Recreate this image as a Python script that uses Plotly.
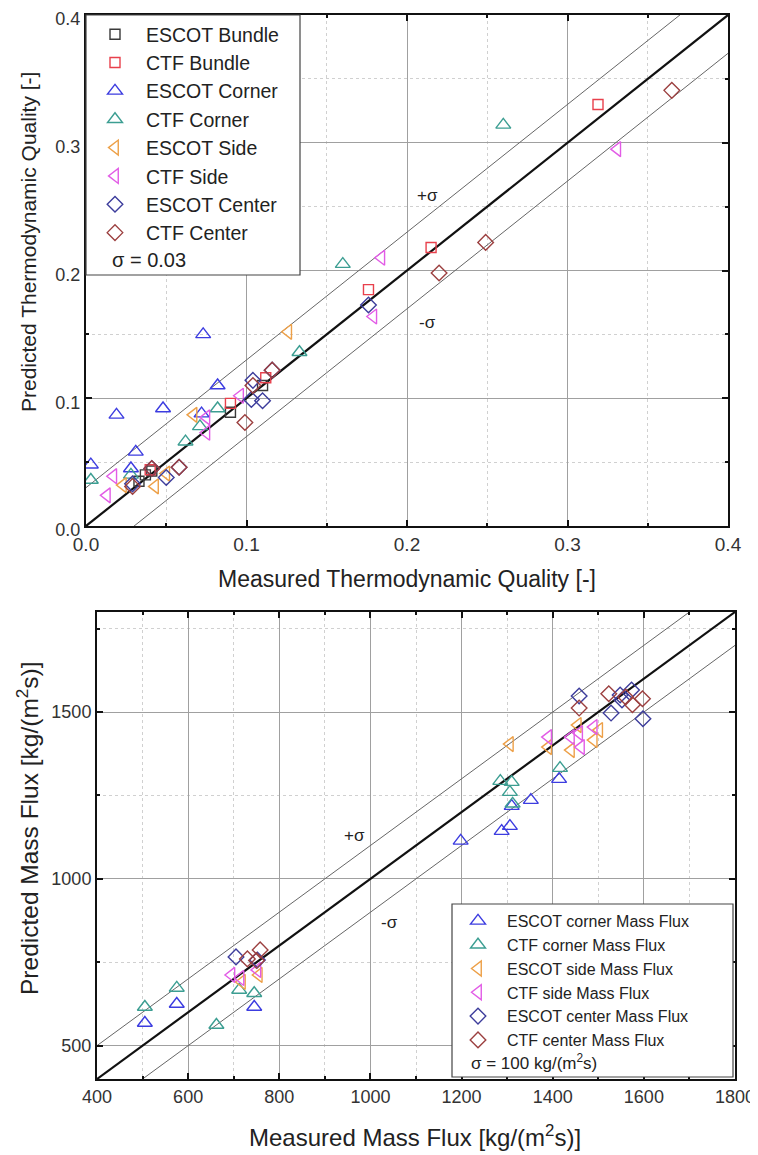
import plotly.graph_objects as go
from plotly.subplots import make_subplots

W, H = 758, 1155
OFF = 8  # page body margin of the html page

# ---------------- Top chart: thermodynamic quality ----------------
q_series = ["ESCOT Bundle", "CTF Bundle", "ESCOT Corner", "CTF Corner",
            "ESCOT Side", "CTF Side", "ESCOT Center", "CTF Center"]

escot_bundle_x = [0.033, 0.037, 0.041, 0.090, 0.110]
escot_bundle_y = [0.035, 0.040, 0.043, 0.089, 0.110]
ctf_bundle_x = [0.040, 0.090, 0.112, 0.176, 0.215, 0.319]
ctf_bundle_y = [0.044, 0.096, 0.116, 0.185, 0.218, 0.330]
escot_corner_x = [0.003, 0.019, 0.031, 0.028, 0.048, 0.073, 0.082, 0.072]
escot_corner_y = [0.048, 0.087, 0.058, 0.045, 0.092, 0.150, 0.110, 0.088]
ctf_corner_x = [0.003, 0.028, 0.062, 0.071, 0.082, 0.133, 0.160, 0.260]
ctf_corner_y = [0.036, 0.040, 0.066, 0.078, 0.092, 0.136, 0.205, 0.314]
escot_side_x = [0.023, 0.043, 0.050, 0.067, 0.126]
escot_side_y = [0.032, 0.031, 0.041, 0.087, 0.152]
ctf_side_x = [0.013, 0.017, 0.075, 0.075, 0.096, 0.179, 0.184, 0.331]
ctf_side_y = [0.024, 0.039, 0.085, 0.073, 0.102, 0.164, 0.210, 0.295]
escot_center_x = [0.029, 0.041, 0.050, 0.058, 0.103, 0.104, 0.110, 0.116, 0.176]
escot_center_y = [0.033, 0.045, 0.038, 0.046, 0.099, 0.114, 0.098, 0.122, 0.173]
ctf_center_x = [0.029, 0.041, 0.058, 0.099, 0.104, 0.116, 0.220, 0.249, 0.365]
ctf_center_y = [0.031, 0.045, 0.046, 0.081, 0.110, 0.122, 0.198, 0.222, 0.341]

q_sigma = 0.03
q_line = [0.0, 0.4]

# ---------------- Bottom chart: mass flux ----------------
m_series = ["ESCOT corner Mass Flux", "CTF corner Mass Flux", "ESCOT side Mass Flux",
            "CTF side Mass Flux", "ESCOT center Mass Flux", "CTF center Mass Flux"]

m_escot_corner_x = [505, 575, 745, 1198, 1288, 1306, 1310, 1352, 1414]
m_escot_corner_y = [568, 625, 616, 1114, 1143, 1158, 1218, 1236, 1299]
m_ctf_corner_x = [505, 575, 662, 712, 745, 1285, 1306, 1310, 1312, 1416]
m_ctf_corner_y = [616, 673, 562, 667, 657, 1293, 1260, 1290, 1225, 1332]
m_escot_side_x = [718, 755, 1306, 1390, 1440, 1455, 1490, 1502]
m_escot_side_y = [691, 712, 1404, 1395, 1386, 1461, 1416, 1446]
m_ctf_side_x = [695, 715, 752, 1390, 1440, 1458, 1462, 1490]
m_ctf_side_y = [712, 703, 727, 1425, 1425, 1437, 1395, 1455]
m_escot_center_x = [705, 752, 1458, 1528, 1548, 1552, 1573, 1598]
m_escot_center_y = [766, 757, 1548, 1497, 1551, 1536, 1566, 1480]
m_ctf_center_x = [730, 750, 758, 1458, 1523, 1560, 1575, 1597]
m_ctf_center_y = [760, 755, 787, 1512, 1555, 1545, 1522, 1540]

m_sigma = 100
m_line = [400, 1800]

# ---------------- styles ----------------
C_EB, C_CB = "#3a3a3a", "#e8404c"
C_EC, C_CC = "#3c3ce0", "#3c9e92"
C_ES, C_CS = "#eda048", "#e25ce6"
C_EN, C_CN = "#3d3d9c", "#9c4040"
FONT = "Liberation Sans, Arial, sans-serif"

fig = make_subplots(rows=2, cols=1)


def add_line(xs, ys, row, width, color):
    fig.add_trace(go.Scatter(x=xs, y=ys, mode="lines", showlegend=False,
                             hoverinfo="skip", line=dict(color=color, width=width)),
                  row=row, col=1)


# reference lines (top)
add_line(q_line, q_line, 1, 2.2, "#111111")
add_line(q_line, [v + q_sigma for v in q_line], 1, 1, "#666666")
add_line(q_line, [v - q_sigma for v in q_line], 1, 1, "#666666")
# reference lines (bottom)
add_line(m_line, m_line, 2, 2.2, "#111111")
add_line(m_line, [v + m_sigma for v in m_line], 2, 1, "#666666")
add_line(m_line, [v - m_sigma for v in m_line], 2, 1, "#666666")

top_sets = [
    (escot_bundle_x, escot_bundle_y, "square-open", C_EB, 10),
    (ctf_bundle_x, ctf_bundle_y, "square-open", C_CB, 10),
    (escot_corner_x, escot_corner_y, "triangle-up-open", C_EC, 13),
    (ctf_corner_x, ctf_corner_y, "triangle-up-open", C_CC, 13),
    (escot_side_x, escot_side_y, "triangle-left-open", C_ES, 13),
    (ctf_side_x, ctf_side_y, "triangle-left-open", C_CS, 13),
    (escot_center_x, escot_center_y, "diamond-open", C_EN, 12),
    (ctf_center_x, ctf_center_y, "diamond-open", C_CN, 12),
]
for name, (xs, ys, sym, col, sz) in zip(q_series, top_sets):
    fig.add_trace(go.Scatter(x=xs, y=ys, mode="markers", name=name, legend="legend",
                             marker=dict(symbol=sym, size=sz, color=col,
                                         line=dict(width=1.4, color=col))),
                  row=1, col=1)

bot_sets = [
    (m_escot_corner_x, m_escot_corner_y, "triangle-up-open", C_EC, 13),
    (m_ctf_corner_x, m_ctf_corner_y, "triangle-up-open", C_CC, 13),
    (m_escot_side_x, m_escot_side_y, "triangle-left-open", C_ES, 13),
    (m_ctf_side_x, m_ctf_side_y, "triangle-left-open", C_CS, 13),
    (m_escot_center_x, m_escot_center_y, "diamond-open", C_EN, 12),
    (m_ctf_center_x, m_ctf_center_y, "diamond-open", C_CN, 12),
]
for name, (xs, ys, sym, col, sz) in zip(m_series, bot_sets):
    fig.add_trace(go.Scatter(x=xs, y=ys, mode="markers", name=name, legend="legend2",
                             marker=dict(symbol=sym, size=sz, color=col,
                                         line=dict(width=1.4, color=col))),
                  row=2, col=1)


def px(x):
    return (x - OFF) / W


def py(y):
    return 1 - (y - OFF) / H


axis_common = dict(
    showline=True, linewidth=2, linecolor="#111111", mirror="allticks",
    ticks="inside", ticklen=6, tickwidth=2, tickcolor="#111111",
    showgrid=True, gridcolor="#a0a0a0", gridwidth=1, zeroline=False,
    automargin=False, ticklabeloverflow="allow",
    tickfont=dict(family=FONT, size=18, color="#333333"),
)
minor_common = dict(ticks="inside", ticklen=3, tickwidth=1.5, tickcolor="#111111",
                    showgrid=True, gridcolor="#d0d0d0", griddash="dot")

fig.update_xaxes(axis_common, row=1, col=1, domain=[px(86), px(728)], range=[0, 0.4],
                 dtick=0.1, tick0=0, tickformat=".1f", minor=dict(minor_common, dtick=0.05),
                 tickfont=dict(family=FONT, size=19, color="#333333"))
fig.update_yaxes(axis_common, row=1, col=1, domain=[py(526), py(15)], range=[0, 0.4],
                 dtick=0.1, tick0=0, tickformat=".1f", minor=dict(minor_common, dtick=0.05),
                 ticklabelshift=4)
fig.update_xaxes(axis_common, row=2, col=1, domain=[px(97), px(735)], range=[400, 1800],
                 dtick=200, tick0=400, minor=dict(minor_common, dtick=100))
fig.update_yaxes(axis_common, row=2, col=1, domain=[py(1079), py(612)], range=[400, 1800],
                 dtick=500, tick0=0, minor=dict(minor_common, dtick=250))

shapes = [
    dict(type="rect", xref="paper", yref="paper", x0=px(86), x1=px(300), y0=py(275), y1=py(15),
         line=dict(color="#444444", width=1.2), fillcolor="white", layer="above"),
    dict(type="rect", xref="paper", yref="paper", x0=px(452), x1=px(733), y0=py(1077), y1=py(904),
         line=dict(color="#444444", width=1.2), fillcolor="white", layer="above"),
]

ann_font = dict(family=FONT, size=17, color="#222222")


def title_ann(text, x, y, size, angle=0):
    return dict(text=text, xref="paper", yref="paper", x=px(x), y=py(y),
                xanchor="center", yanchor="middle", textangle=angle, showarrow=False,
                font=dict(family=FONT, size=size, color="#222222"))


annotations = [
    title_ann("Measured Thermodynamic Quality [-]", 407, 579, 23),
    title_ann("Predicted Thermodynamic Quality [-]", 28, 242, 21, -90),
    title_ann("Measured Mass Flux [kg/(m<sup>2</sup>s)]", 415, 1136, 24),
    title_ann("Predicted Mass Flux [kg/(m<sup>2</sup>s)]", 27, 828, 24.5, -90),
    dict(text="+σ", x=0.213, y=0.259, xref="x", yref="y", showarrow=False, font=ann_font),
    dict(text="-σ", x=0.213, y=0.159, xref="x", yref="y", showarrow=False, font=ann_font),
    dict(text="+σ", x=966, y=1131, xref="x2", yref="y2", showarrow=False, font=ann_font),
    dict(text="-σ", x=1041, y=868, xref="x2", yref="y2", showarrow=False, font=ann_font),
    dict(text="σ = 0.03", xref="paper", yref="paper", x=px(110), y=py(260),
         xanchor="left", yanchor="middle", showarrow=False,
         font=dict(family=FONT, size=20, color="#222222")),
    dict(text="σ = 100 kg/(m<sup>2</sup>s)", xref="paper", yref="paper", x=px(469), y=py(1062),
         xanchor="left", yanchor="middle", showarrow=False,
         font=dict(family=FONT, size=17, color="#222222")),
]

fig.update_layout(
    width=W, height=H, margin=dict(l=0, r=0, t=0, b=0, autoexpand=False),
    paper_bgcolor="white", plot_bgcolor="white",
    font=dict(family=FONT, color="#222222"),
    shapes=shapes, annotations=annotations,
    legend=dict(x=px(84), y=py(15), xanchor="left", yanchor="top",
                bgcolor="rgba(0,0,0,0)", borderwidth=0, itemwidth=52,
                font=dict(family=FONT, size=19.5, color="#222222"), tracegroupgap=0),
    legend2=dict(x=px(449), y=py(904), xanchor="left", yanchor="top",
                 bgcolor="rgba(0,0,0,0)", borderwidth=0, itemwidth=48,
                 font=dict(family=FONT, size=16, color="#222222"), tracegroupgap=0),
)

fig.write_html("out.html")
